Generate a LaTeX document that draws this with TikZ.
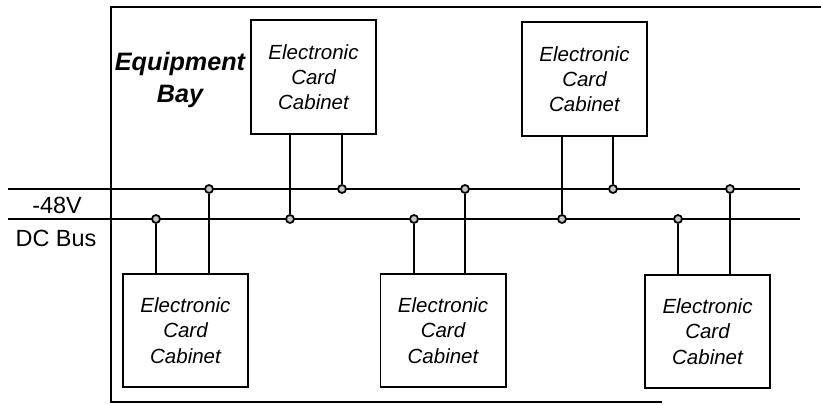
\documentclass[tikz,border=0pt]{standalone}
\usepackage{fontspec}
\setmainfont{Liberation Sans}
\begin{document}
\begin{tikzpicture}[x=0.03cm, y=-0.03cm, line width=1.7pt,
  cabinet/.style={draw, align=center, minimum width=3.75cm, minimum height=3.4cm,
    font=\fontsize{17.5}{21.5}\selectfont\itshape},
  tap/.style={circle, draw, fill=gray!45, line width=1.5pt, inner sep=0pt, minimum size=0.24cm},
  buslabel/.style={font=\fontsize{20}{22}\selectfont}]
\useasboundingbox (0,0) rectangle (821,405);
\draw (821,7) -- (111,7) -- (111,402) -- (662,402);
\node[align=center, font=\fontsize{21.5}{27}\selectfont\bfseries\itshape] (bay) at (180,80) {Equipment\\ Bay};
\coordinate (hiL) at (8,189);
\coordinate (hiR) at (800,189);
\coordinate (loL) at (8,219);
\coordinate (loR) at (800,219);
\draw (hiL) -- (hiR);
\draw (loL) -- (loR);
\node[buslabel] (volt) at (57,205) {-48V};
\node[buslabel] (dcbus) at (56,238) {DC Bus};
\node[cabinet] (cabTL) at (313.5,77) {Electronic\\ Card\\ Cabinet};
\node[cabinet] (cabTR) at (584.5,79) {Electronic\\ Card\\ Cabinet};
\node[cabinet] (cabBL) at (185.5,330.5) {Electronic\\ Card\\ Cabinet};
\node[cabinet] (cabBM) at (443,330.5) {Electronic\\ Card\\ Cabinet};
\node[cabinet] (cabBR) at (707.5,331.5) {Electronic\\ Card\\ Cabinet};
\node[tap] (tTL1) at (290,219) {};
\node[tap] (tTL2) at (342,189) {};
\node[tap] (tTR1) at (562,219) {};
\node[tap] (tTR2) at (613,189) {};
\node[tap] (tBL1) at (156,219) {};
\node[tap] (tBL2) at (209,189) {};
\node[tap] (tBM1) at (414,219) {};
\node[tap] (tBM2) at (465,189) {};
\node[tap] (tBR1) at (678,219) {};
\node[tap] (tBR2) at (730,189) {};
\draw (cabTL.south -| tTL1) -- (tTL1);
\draw (cabTL.south -| tTL2) -- (tTL2);
\draw (cabTR.south -| tTR1) -- (tTR1);
\draw (cabTR.south -| tTR2) -- (tTR2);
\draw (cabBL.north -| tBL1) -- (tBL1);
\draw (cabBL.north -| tBL2) -- (tBL2);
\draw (cabBM.north -| tBM1) -- (tBM1);
\draw (cabBM.north -| tBM2) -- (tBM2);
\draw (cabBR.north -| tBR1) -- (tBR1);
\draw (cabBR.north -| tBR2) -- (tBR2);
\end{tikzpicture}
\end{document}
